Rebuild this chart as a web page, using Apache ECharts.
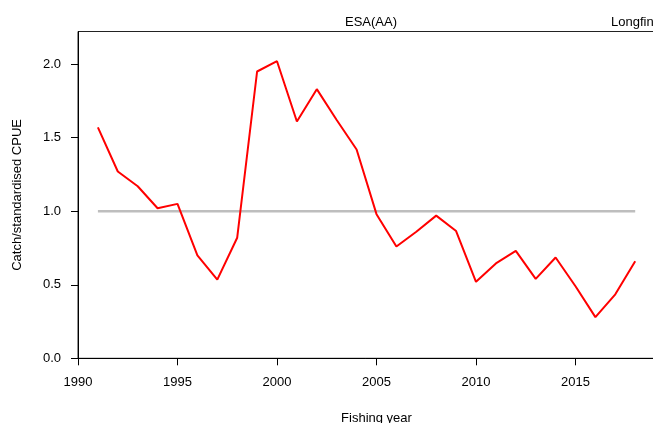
<!DOCTYPE html>
<html>
<head>
<meta charset="utf-8">
<script src="https://cdn.jsdelivr.net/npm/echarts@6/dist/echarts.min.js"></script>
<style>
  html, body { margin: 0; padding: 0; background: #fff; }
  #chart { width: 653px; height: 423px; }
</style>
</head>
<body>
<div id="chart"></div>
<script>
// Fishing years and catch / standardised CPUE ratio
const years = [1991, 1992, 1993, 1994, 1995, 1996, 1997, 1998, 1999, 2000,
               2001, 2002, 2003, 2004, 2005, 2006, 2007, 2008, 2009, 2010,
               2011, 2012, 2013, 2014, 2015, 2016, 2017, 2018];
const ratio = [1.57, 1.27, 1.17, 1.02, 1.05, 0.70, 0.535, 0.82, 1.95, 2.02,
               1.61, 1.83, 1.62, 1.42, 0.98, 0.76, 0.86, 0.97, 0.865, 0.52,
               0.645, 0.73, 0.54, 0.685, 0.49, 0.28, 0.435, 0.66];
// Reference level of 1 across the series
const refYears = [1991, 2018];
const refLevel = 1.0;

const xTicks = [1990, 1995, 2000, 2005, 2010, 2015, 2020];
const yTicks = [0, 0.5, 1.0, 1.5, 2.0];

const chart = echarts.init(document.getElementById('chart'), null, { renderer: 'canvas' });
const font = 'Liberation Sans, Arial, Helvetica, sans-serif';

chart.setOption({
  animation: false,
  backgroundColor: '#fff',
  textStyle: { fontFamily: font },
  title: [
    { text: 'ESA(AA)', left: 366, top: 11, padding: 5, textAlign: 'center',
      textStyle: { fontSize: 13, fontWeight: 'normal', color: '#000', fontFamily: font } },
    { text: 'Longfin', left: 606, top: 11, padding: 5,
      textStyle: { fontSize: 13, fontWeight: 'normal', color: '#000', fontFamily: font } }
  ],
  grid: {
    left: 78, right: -22, top: 31.5, bottom: 64.7,
    outerBoundsMode: 'none', containLabel: false,
    show: true, borderColor: '#222', borderWidth: 1, backgroundColor: 'transparent'
  },
  xAxis: {
    type: 'value', min: 1990, max: 2020, interval: 5,
    name: 'Fishing year', nameLocation: 'middle', nameGap: 54,
    nameTextStyle: { fontSize: 13, color: '#000', fontFamily: font },
    axisLine: { show: true, onZero: false, lineStyle: { color: '#000', width: 1 } },
    axisTick: { show: true, length: 7, customValues: xTicks, lineStyle: { color: '#000' } },
    axisLabel: { margin: 18, fontSize: 13, color: '#000', fontFamily: font,
                 customValues: xTicks, formatter: v => String(v) },
    splitLine: { show: false }
  },
  yAxis: {
    type: 'value', min: 0, max: 2.222, interval: 0.5,
    name: 'Catch/standardised CPUE', nameLocation: 'middle', nameGap: 54,
    nameTextStyle: { fontSize: 13, color: '#000', fontFamily: font },
    axisLine: { show: true, lineStyle: { color: '#000', width: 1 } },
    axisTick: { show: true, length: 7, customValues: yTicks, lineStyle: { color: '#000' } },
    axisLabel: { margin: 17, fontSize: 13, color: '#000', fontFamily: font,
                 customValues: yTicks, formatter: v => v.toFixed(1) },
    splitLine: { show: false }
  },
  series: [
    {
      type: 'line', name: 'reference',
      data: refYears.map(y => [y, refLevel]),
      showSymbol: false, silent: true,
      lineStyle: { color: '#bebebe', width: 2.5 },
      z: 1
    },
    {
      type: 'line', name: 'ratio',
      data: years.map((y, i) => [y, ratio[i]]),
      showSymbol: false,
      lineStyle: { color: '#ff0000', width: 2 },
      z: 2
    }
  ]
});
</script>
</body>
</html>
